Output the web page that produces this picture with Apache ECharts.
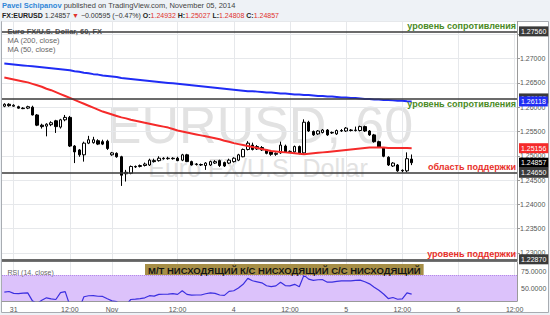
<!DOCTYPE html>
<html><head><meta charset="utf-8">
<script src="https://cdn.jsdelivr.net/npm/echarts@6/dist/echarts.min.js"></script>
<style>html,body{margin:0;padding:0;background:#eef2f6}#c{width:550px;height:315px}</style>
</head><body><div id="c"></div>
<script>
// ---------- data ----------
const opens = [1.2602,1.2606,1.2602,1.2601,1.2598,1.2598,1.2600,1.2584,1.2563,1.2561,
1.2564,1.2572,1.2559,1.2574,1.2579,1.2520,1.2512,1.2502,1.2526,1.2527,
1.2531,1.2529,1.2530,1.2502,1.2505,1.2498,1.2463,1.2464,1.2478,1.2478,
1.2480,1.2481,1.2490,1.2490,1.2495,1.2494,1.2495,1.2495,1.2491,1.2502,
1.2488,1.2482,1.2482,1.2480,1.2481,1.2485,1.2490,1.2486,1.2485,1.2488,
1.2491,1.2498,1.2513,1.2522,1.2514,1.2517,1.2512,1.2508,1.2503,1.2506,
1.2520,1.2509,1.2508,1.2519,1.2506,1.2569,1.2550,1.2545,1.2548,1.2553,
1.2547,1.2545,1.2552,1.2551,1.2553,1.2552,1.2552,1.2560,1.2551,1.2543,
1.2529,1.2516,1.2497,1.2479,1.2481,1.2470,1.2469,1.24932];
const closes = [1.2606,1.2603,1.2604,1.2598,1.2597,1.2601,1.2584,1.2563,1.2560,1.2565,
1.2568,1.2560,1.2574,1.2579,1.2520,1.2508,1.2502,1.2526,1.2533,1.2533,
1.2524,1.2524,1.2515,1.2506,1.2498,1.2460,1.2466,1.2478,1.2477,1.2480,
1.2483,1.2491,1.2488,1.2495,1.2494,1.2495,1.2494,1.2490,1.2502,1.2488,
1.2481,1.2483,1.2481,1.2485,1.2488,1.2488,1.2480,1.2479,1.2491,1.2495,
1.2502,1.2513,1.2526,1.2513,1.2519,1.2512,1.2505,1.2503,1.2505,1.2522,
1.2508,1.2509,1.2519,1.2505,1.2569,1.2551,1.2543,1.2551,1.2553,1.2543,
1.2548,1.2552,1.2551,1.2557,1.2552,1.2553,1.2560,1.2551,1.2543,1.2529,
1.2518,1.2499,1.2481,1.2485,1.2469,1.2469,1.2494,1.24857];
const highs = [1.2608,1.2608,1.2606,1.2603,1.2600,1.2603,1.2603,1.2586,1.2566,1.2567,
1.2571,1.2574,1.2576,1.2584,1.2582,1.2522,1.2514,1.2529,1.2541,1.2539,
1.2534,1.2533,1.2533,1.2508,1.2507,1.2500,1.2471,1.2480,1.2480,1.2482,
1.2486,1.2494,1.2494,1.2499,1.2497,1.2498,1.2497,1.2498,1.2504,1.2504,
1.2490,1.2485,1.2484,1.2487,1.2490,1.2491,1.2492,1.2488,1.2494,1.2497,
1.2504,1.2515,1.2530,1.2527,1.2522,1.2520,1.2514,1.2510,1.2507,1.2529,
1.2523,1.2511,1.2521,1.2521,1.2575,1.2572,1.2552,1.2553,1.2555,1.2555,
1.2550,1.2554,1.2555,1.2559,1.2555,1.2560,1.2562,1.2562,1.2553,1.2545,
1.2531,1.2518,1.2499,1.2487,1.2483,1.2472,1.2507,1.25027];
const lows = [1.2600,1.2601,1.2601,1.2597,1.2596,1.2596,1.2583,1.2561,1.2556,1.2540,
1.2561,1.2547,1.2556,1.2571,1.2518,1.2485,1.2498,1.2488,1.2524,1.2525,
1.2522,1.2522,1.2512,1.2500,1.2496,1.2438,1.2447,1.2462,1.2475,1.2476,
1.2478,1.2479,1.2486,1.2488,1.2492,1.2492,1.2492,1.2489,1.2489,1.2487,
1.2480,1.2480,1.2479,1.2471,1.2479,1.2483,1.2477,1.2477,1.2483,1.2486,
1.2489,1.2497,1.2511,1.2511,1.2512,1.2510,1.2503,1.2500,1.2500,1.2504,
1.2506,1.2506,1.2506,1.2503,1.2503,1.2549,1.2541,1.2543,1.2546,1.2541,
1.2545,1.2543,1.2549,1.2549,1.2550,1.2550,1.2550,1.2549,1.2541,1.2527,
1.2516,1.2497,1.2479,1.2477,1.2467,1.2466,1.2466,1.24808];
const ma200 = [1.2690,1.2689,1.2688,1.2687,1.2686,1.2685,1.2684,1.2683,1.2682,1.2681,1.2680,1.2679,1.2678,1.2677,
1.2676,1.2674,1.2673,1.2671,1.2670,1.2668,1.2667,1.2665,1.2664,1.2663,1.2662,1.2660,1.2659,1.2658,
1.2657,1.2656,1.2655,1.2654,1.2653,1.2652,1.2651,1.2650,1.2649,1.2648,1.2647,1.2646,1.2645,1.2644,
1.2643,1.2642,1.2641,1.2640,1.2639,1.2638,1.2637,1.2636,1.2635,1.2634,1.2633,1.2633,1.2632,1.2631,
1.2630,1.2630,1.2629,1.2628,1.2628,1.2627,1.2626,1.2626,1.2625,1.2625,1.2624,1.2623,1.2623,1.2622,
1.2622,1.2621,1.2620,1.2620,1.2619,1.2619,1.2618,1.2617,1.2617,1.2616,1.2616,1.2615,1.2615,1.2614,1.2613,1.2613,1.2612,1.26118];
const ma50 = [1.2661,1.2659,1.2657,1.2655,1.2653,1.2651,1.2648,1.2645,1.2642,1.2638,1.2635,1.2631,1.2627,1.2623,
1.2619,1.2615,1.2611,1.2607,1.2603,1.2599,1.2595,1.2591,1.2588,1.2585,1.2582,1.2579,1.2577,1.2574,
1.2572,1.2570,1.2568,1.2566,1.2564,1.2562,1.2560,1.2558,1.2555,1.2552,1.2550,1.2548,1.2546,1.2544,
1.2542,1.2540,1.2538,1.2536,1.2534,1.2531,1.2529,1.2526,1.2524,1.2522,1.2520,1.2518,1.2516,1.2514,
1.2512,1.2510,1.2509,1.2508,1.2507,1.2506,1.2505,1.2504,1.2503,1.2504,1.2505,1.2506,1.2507,1.2508,
1.2509,1.2510,1.2511,1.2512,1.2513,1.2514,1.2515,1.2516,1.2517,1.2517,1.2517,1.2517,1.2516,1.2516,1.2516,1.2516,1.2516,1.25156];
const rsi = [44.8,45.8,43.0,42.7,43.5,43.8,32,28,33,36.5,
35,34,44,45.5,25,22,21,38,39.5,39.8,
38.8,38.5,35,32,31,22,26,34,34.5,35.4,
36.5,39.6,39,41.5,41.7,42,42.5,41.5,46.9,41.5,
40.3,40.6,40.6,42.5,43.8,43,40.6,40,46,46.9,
51,56.3,65,61.5,60,58.5,54.2,53,54,59.4,
54.5,54,56.3,52.7,69.8,64,62,63,63.1,59.4,
59.4,60.5,61.5,61.5,61.5,62,62.5,60,57,52,
47.5,42,35.4,37,34.4,35,43.8,42];
const nSlots = 110;
const labelIdx = [2,14,23,37,49,61,73,85,97,109];
const labelText = ['31','12:00','Nov','12:00','4','12:00','5','12:00','6','12:00'];
const levels = [1.2756,1.2618,1.2465,1.2287];
const levelLabels = ['1.27560','1.26180','1.24650','1.22870'];
const levelNotes = ['уровень сопротивления','уровень сопротивления','область поддержки','уровень поддержки'];
const noteColors = ['#4a8a24','#4a8a24','#e8302a','#e8302a'];
const notePos = ['insideEndTop','insideEndBottom','insideEndTop','insideEndTop'];
const lastPrice = 1.24857;
const rsiTicks = [75,50];
const rsiBand = [30,70];
const headerLine1 = '{a|Pavel Schipanov} {b|published on TradingView.com, November 05, 2014}';
const headerLine2 = '{k|FX:EURUSD} {v|1.24857} {r|▼} {v|−0.00595 (−0.47%)} {k|O:}{r|1.24932} {k|H:}{r|1.25027} {k|L:}{r|1.24808} {k|C:}{r|1.24857}';
const legendTexts = ['Euro FX/U.S. Dollar, 60, FX','MA (200, close)','MA (50, close)'];
const trendText = 'М/Т НИСХОДЯЩИЙ К/С НИСХОДЯЩИЙ С/С НИСХОДЯЩИЙ';

// ---------- chart ----------
const FF = 'Liberation Sans, Arial, sans-serif';
const NONE = 'rgba(0,0,0,0)';
const cats = Array.from({length:nSlots},(_,i)=>String(i));
const showIdx = (i)=>labelIdx.indexOf(i)>=0;
const box = (bg)=>({show:true,position:'end',distance:2,backgroundColor:bg,color:'#fff',fontSize:7,fontFamily:FF,padding:[1,2,0,2],lineHeight:9});
// axis tick labels that sit under a level box are hidden in the reference
const coveredByBox = (v)=>Math.abs(v-levels[0])<0.001;

const levelLines = levels.map((v,i)=>({yAxis:v,lineStyle:{color:'#3a3a3a',width:1.5,type:'solid'},label:Object.assign(box('#3a3a3a'),{formatter:()=>levelLabels[i]})}));
const noteLines = levels.map((v,i)=>({yAxis:v,lineStyle:{color:NONE,width:0},label:{show:true,position:notePos[i],distance:1,formatter:()=>levelNotes[i],color:noteColors[i],fontWeight:'bold',fontSize:9,fontFamily:FF}}));
const lastLine = [{yAxis:lastPrice,lineStyle:{color:NONE,width:0},label:Object.assign(box('#000'),{formatter:()=>lastPrice.toFixed(5)})}];

const chart = echarts.init(document.getElementById('c'),null,{renderer:'svg'});
chart.setOption({
  animation:false,
  backgroundColor:'#eef2f6',
  grid:[
    {left:2,right:33,top:21.5,height:239.5},
    {left:2,right:33,top:262,height:39}
  ],
  xAxis:[
    {type:'category',gridIndex:0,data:cats,boundaryGap:true,
     axisLine:{show:false},axisTick:{show:false},axisLabel:{show:false},
     splitLine:{show:true,interval:(i)=>showIdx(i),alignWithLabel:true,lineStyle:{color:'#e6e8eb',width:1}}},
    {type:'category',gridIndex:1,data:cats,boundaryGap:true,
     axisLine:{show:true,lineStyle:{color:'#9a9a9a'}},axisTick:{show:false},
     axisLabel:{show:true,interval:(i)=>showIdx(i),formatter:(v)=>{const k=labelIdx.indexOf(Number(v));return k>=0?labelText[k]:'';},color:'#555',fontSize:7,fontFamily:FF,margin:5},
     splitLine:{show:true,interval:(i)=>showIdx(i),alignWithLabel:true,lineStyle:{color:'#e6e8eb',width:1}}}
  ],
  yAxis:[
    {type:'value',gridIndex:0,position:'right',min:1.22835,max:1.27763,splitNumber:10,scale:true,
     axisLine:{show:true,lineStyle:{color:'#9a9a9a'}},axisTick:{show:true,length:3,lineStyle:{color:'#9a9a9a'}},
     axisLabel:{color:'#555',fontSize:7,fontFamily:FF,margin:3,showMinLabel:false,showMaxLabel:false,formatter:(v)=>coveredByBox(v)?'':v.toFixed(5)},
     splitLine:{show:true,lineStyle:{color:'#e6e8eb',width:1}}},
    {type:'value',gridIndex:1,position:'right',min:31.8,max:89.1,
     axisLine:{show:true,lineStyle:{color:'#9a9a9a'}},axisTick:{show:false},axisLabel:{show:false},splitLine:{show:false}}
  ],
  series:[
    {type:'candlestick',xAxisIndex:0,yAxisIndex:0,barWidth:3,z:3,
     data:opens.map((o,i)=>[o,closes[i],lows[i],highs[i]]),
     itemStyle:{color:'#ffffff',color0:'#000000',borderColor:'#000000',borderColor0:'#000000',borderWidth:1},
     markLine:{silent:true,symbol:'none',precision:5,animation:false,data:levelLines.concat(noteLines)}},
    {type:'line',xAxisIndex:0,yAxisIndex:0,data:ma200,symbol:'none',z:4,lineStyle:{color:'#1f2cf5',width:2},
     markLine:{silent:true,symbol:'none',precision:5,data:[{yAxis:ma200[ma200.length-1],lineStyle:{color:NONE,width:0},label:Object.assign(box('#1f2cf5'),{formatter:()=>ma200[ma200.length-1].toFixed(5)})}]}},
    {type:'line',xAxisIndex:0,yAxisIndex:0,data:ma50,symbol:'none',z:4,lineStyle:{color:'#f52a2a',width:2},
     markLine:{silent:true,symbol:'none',precision:5,data:[{yAxis:ma50[ma50.length-1],lineStyle:{color:NONE,width:0},label:Object.assign(box('#f52a2a'),{formatter:()=>ma50[ma50.length-1].toFixed(5)})}].concat(lastLine)}},
    {type:'line',xAxisIndex:1,yAxisIndex:1,data:[],z:1,
     markArea:{silent:true,itemStyle:{color:'#dcc2fb'},data:[[{yAxis:rsiBand[0]},{yAxis:rsiBand[1]}]]},
     markLine:{silent:true,symbol:'none',precision:4,data:[
       {yAxis:rsiBand[1],lineStyle:{color:'#b48ae8',type:'dotted',width:1},label:{show:false}},
       ...rsiTicks.map(t=>({yAxis:t,lineStyle:{color:NONE,width:0},label:{show:true,position:'end',distance:4,formatter:()=>t.toFixed(4),color:'#555',fontSize:7,fontFamily:FF}}))
     ]}},
    {type:'line',xAxisIndex:1,yAxisIndex:1,data:rsi,symbol:'none',z:3,lineStyle:{color:'#3b2fe0',width:1.2}}
  ],
  graphic:[
    {type:'rect',z:-10,silent:true,shape:{x:1.5,y:21.5,width:547,height:291},style:{fill:'#ffffff',stroke:'#a8acb2',lineWidth:1}},
    {type:'text',z:-5,silent:true,style:{text:'EURUSD, 60',x:260,y:125,align:'center',verticalAlign:'middle',font:'52px '+FF,fill:'#e2e2e2'}},
    {type:'text',z:-5,silent:true,style:{text:'Euro FX/U.S. Dollar',x:258,y:168,align:'center',verticalAlign:'middle',font:'25px '+FF,fill:'#e2e2e2'}},
    {type:'text',silent:true,style:{text:headerLine1,x:2,y:5.7,verticalAlign:'middle',font:'7.5px '+FF,rich:{a:{fill:'#2f86d8',fontWeight:'bold',fontSize:7.5,fontFamily:FF},b:{fill:'#444',fontSize:7.5,fontFamily:FF}}}},
    {type:'text',silent:true,style:{text:headerLine2,x:2,y:15,verticalAlign:'middle',font:'7px '+FF,rich:{k:{fill:'#222',fontWeight:'bold',fontSize:7,fontFamily:FF},v:{fill:'#333',fontSize:7,fontFamily:FF},r:{fill:'#e0312c',fontSize:7,fontFamily:FF}}}},
    {type:'text',z:5,silent:true,style:{text:legendTexts[0],x:7.5,y:31.7,verticalAlign:'middle',font:'bold 7.5px '+FF,fill:'#555'}},
    {type:'text',z:5,silent:true,style:{text:legendTexts[1],x:7.5,y:40.5,verticalAlign:'middle',font:'7.5px '+FF,fill:'#666'}},
    {type:'text',z:5,silent:true,style:{text:legendTexts[2],x:7.5,y:49,verticalAlign:'middle',font:'7.5px '+FF,fill:'#666'}},
    {type:'line',z:5,silent:true,shape:{x1:2,y1:261.3,x2:517,y2:261.3},style:{stroke:'#555',lineWidth:1}},
    {type:'text',z:5,silent:true,style:{text:'RSI (14, close)',x:7.5,y:272.5,verticalAlign:'middle',font:'7px '+FF,fill:'#666'}},
    {type:'text',z:50,silent:true,style:{text:trendText,x:145,y:264,verticalAlign:'top',font:'bold 9.5px '+FF,fill:'#151515',backgroundColor:'#a68e46',padding:[1,3,0,3]}}
  ]
});
</script></body></html>
